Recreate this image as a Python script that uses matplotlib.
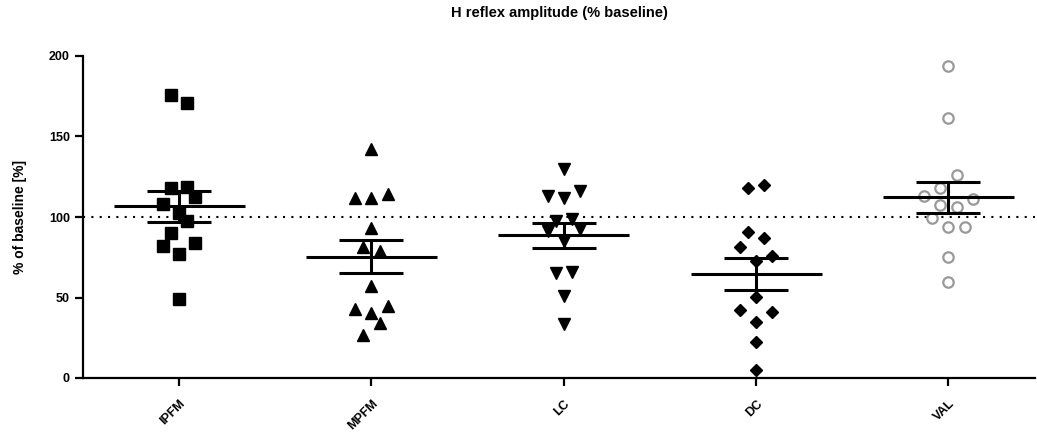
import numpy as np
import matplotlib
matplotlib.use("Agg")
import matplotlib.pyplot as plt

plt.rcParams['font.family'] = ['Liberation Sans', 'DejaVu Sans']
plt.rcParams['font.weight'] = 'bold'

groups = ["IPFM", "MPFM", "LC", "DC", "VAL"]

ipfm = [175.8, 171.0, 117.8, 118.8, 112.2, 108.0, 102.7, 97.5, 89.9, 82.2, 84.0, 76.8, 48.9]
mpfm = [142.0, 111.6, 111.6, 114.3, 93.0, 81.2, 79.1, 57.1, 42.7, 44.7, 40.6, 34.4, 26.7]
lc = [129.6, 113.0, 112.0, 116.1, 97.5, 98.6, 91.3, 92.4, 85.1, 65.4, 66.0, 50.9, 33.3]
dc = [118.2, 119.9, 90.5, 87.2, 81.6, 75.8, 72.7, 50.5, 42.2, 41.2, 35.0, 22.2, 5.0]
val = [193.8, 161.3, 126.1, 117.8, 113.0, 111.0, 107.5, 106.0, 99.2, 93.6, 93.6, 75.4, 59.8]
values = [ipfm, mpfm, lc, dc, val]

# scatter column slots (swarm layout), same order as the values
slots = [
    [-1, 1, -1, 1, 2, -2, 0, 1, -1, -2, 2, 0, 0],
    [0, -2, 0, 2, 0, -1, 1, 0, -2, 2, 0, 1, -1],
    [0, -2, 0, 2, -1, 1, -2, 2, 0, -1, 1, 0, 0],
    [-1, 1, -1, 1, -2, 2, 0, 0, -2, 2, 0, 0, 0],
    [0, 0, 1, -1, -3, 3, -1, 1, -2, 0, 2, 0, 0],
]
markers = ['s', '^', 'v', 'D', 'o']
msizes = [8.5, 8.5, 8.5, 6.2, 7.5]
step = 0.042

fig = plt.figure(figsize=(10.37, 4.47), dpi=100)
ax = fig.add_axes([83 / 1037, 69 / 447, 952 / 1037, 322 / 447])

for i, (v, s, m, ms) in enumerate(zip(values, slots, markers, msizes)):
    x = i + np.array(s) * step
    if m == 'o':
        ax.plot(x, v, linestyle='none', marker='o', ms=ms, mfc='white',
                mec='#999999', mew=1.6, zorder=3)
    else:
        ax.plot(x, v, linestyle='none', marker=m, ms=ms, color='black',
                mec='black', zorder=3)
    arr = np.array(v)
    mean = arr.mean()
    sem = arr.std(ddof=1) / np.sqrt(len(arr))
    # mean line + SEM error bar
    ax.hlines(mean, i - 0.34, i + 0.34, color='black', lw=2.2, zorder=4)
    ax.errorbar(i, mean, yerr=sem, fmt='none', ecolor='black', elinewidth=2.2,
                capsize=23, capthick=2.2, zorder=4)

ax.axhline(100, color='black', lw=1.5, linestyle=(0, (1, 3)), zorder=2)

ax.set_xlim(-0.5, 4.45)
ax.set_ylim(0, 200)
ax.set_yticks([0, 50, 100, 150, 200])
ax.set_xticks(range(len(groups)))
ax.set_xticklabels(groups, rotation=45, ha='right', va='top',
                   rotation_mode='anchor', fontsize=9, fontweight='bold')
for lab in ax.get_yticklabels():
    lab.set_fontweight('bold')
    lab.set_fontsize(9)

for side in ['top', 'right']:
    ax.spines[side].set_visible(False)
for side in ['left', 'bottom']:
    ax.spines[side].set_linewidth(1.6)
ax.tick_params(width=1.6, length=6, direction='out')
ax.tick_params(axis='x', pad=8)

ax.set_ylabel("% of baseline [%]", fontsize=10, fontweight='bold', labelpad=16)
ax.set_title("H reflex amplitude (% baseline)", fontsize=10.5, fontweight='bold',
             pad=28)

fig.savefig("out.png", dpi=100)
